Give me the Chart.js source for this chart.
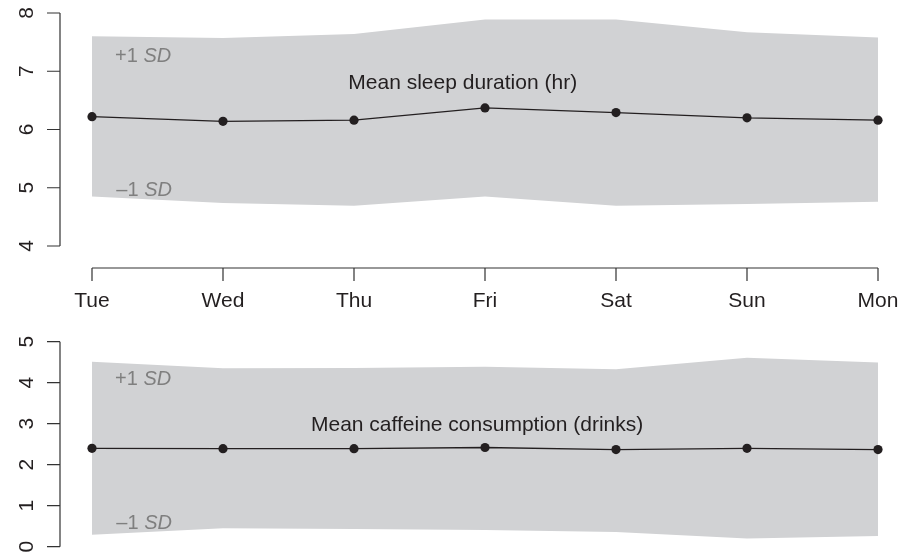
<!DOCTYPE html>
<html><head><meta charset="utf-8">
<script src="https://cdn.jsdelivr.net/npm/chart.js@4/dist/chart.umd.min.js"></script>
<style>
html,body{margin:0;padding:0;background:#fff;}
#wrap{position:relative;width:909px;height:554px;overflow:hidden;}
canvas{position:absolute;left:0;}
</style></head><body>
<div id="wrap">
<canvas id="top" width="909" height="320" style="top:0px"></canvas>
<canvas id="bot" width="909" height="234" style="top:320px"></canvas>
</div>
<script>
const days = ['Tue','Wed','Thu','Fri','Sat','Sun','Mon'];
const sleepMean  = [6.22, 6.14, 6.16, 6.37, 6.29, 6.20, 6.16];
const sleepUpper = [7.60, 7.57, 7.64, 7.89, 7.89, 7.67, 7.58];
const sleepLower = [4.85, 4.74, 4.69, 4.85, 4.69, 4.72, 4.76];
const sleepTicks = [4, 5, 6, 7, 8];
const caffMean  = [2.40, 2.39, 2.39, 2.42, 2.37, 2.40, 2.37];
const caffUpper = [4.51, 4.35, 4.36, 4.39, 4.33, 4.61, 4.49];
const caffLower = [0.29, 0.45, 0.43, 0.41, 0.36, 0.20, 0.26];
const caffTicks = [0, 1, 2, 3, 4, 5];
const sleepTitle = 'Mean sleep duration (hr)';
const caffTitle = 'Mean caffeine consumption (drinks)';

const FONT = '"Liberation Sans", Arial, Helvetica, sans-serif';
const BAND = '#d1d2d4';
const INK = '#231f20';
const AXIS = '#333333';
const GREY = '#7f7f7f';

const axesPlugin = {
  id: 'rAxes',
  afterDraw(chart, args, opts) {
    const ctx = chart.ctx, ca = chart.chartArea;
    const xs = chart.scales.x, ys = chart.scales.y;
    ctx.save();
    ctx.strokeStyle = AXIS; ctx.lineWidth = 1.2; ctx.fillStyle = INK;
    ctx.font = '21px ' + FONT;
    const ax = ca.left - opts.yGap;
    const t = opts.yTicks;
    ctx.beginPath();
    ctx.moveTo(ax, ys.getPixelForValue(t[0]));
    ctx.lineTo(ax, ys.getPixelForValue(t[t.length - 1]));
    t.forEach(v => {
      const py = ys.getPixelForValue(v);
      ctx.moveTo(ax, py); ctx.lineTo(ax - opts.tickLen, py);
    });
    ctx.stroke();
    ctx.textAlign = 'center'; ctx.textBaseline = 'alphabetic';
    t.forEach(v => {
      const py = ys.getPixelForValue(v);
      ctx.save();
      ctx.translate(ax - opts.yLabelOff, py);
      ctx.rotate(-Math.PI / 2);
      ctx.fillText(String(v), 0, 0);
      ctx.restore();
    });
    if (opts.showX) {
      const ay = ca.bottom + opts.xGap;
      ctx.beginPath();
      ctx.moveTo(xs.getPixelForValue(0), ay);
      ctx.lineTo(xs.getPixelForValue(days.length - 1), ay);
      days.forEach((d, i) => {
        const px = xs.getPixelForValue(i);
        ctx.moveTo(px, ay); ctx.lineTo(px, ay + opts.tickLen);
      });
      ctx.stroke();
      ctx.textAlign = 'center';
      days.forEach((d, i) => {
        ctx.fillText(d, xs.getPixelForValue(i), ay + opts.xLabelOff);
      });
    }
    ctx.restore();
  }
};

const textPlugin = {
  id: 'bandText',
  afterDatasetsDraw(chart, args, opts) {
    const ctx = chart.ctx;
    const xs = chart.scales.x, ys = chart.scales.y;
    const x0 = xs.getPixelForValue(0), step = xs.getPixelForValue(1) - x0;
    const px = v => x0 + step * v;
    ctx.save();
    ctx.textBaseline = 'alphabetic';
    ctx.textAlign = 'left';
    opts.sd.forEach(s => {
      let x = px(s.x); const y = ys.getPixelForValue(s.y);
      ctx.fillStyle = GREY;
      ctx.font = '20px ' + FONT;
      ctx.fillText(s.pre, x, y);
      x += ctx.measureText(s.pre).width;
      ctx.font = 'italic 20px ' + FONT;
      ctx.fillText('SD', x, y);
    });
    ctx.fillStyle = INK;
    ctx.font = '21px ' + FONT;
    ctx.textAlign = 'center';
    ctx.fillText(opts.title.text, px(opts.title.x), ys.getPixelForValue(opts.title.y));
    ctx.restore();
  }
};

function panel(id, mean, upper, lower, yMin, yMax, pad, axisOpts, textOpts) {
  return new Chart(document.getElementById(id), {
    type: 'line',
    data: {
      labels: days,
      datasets: [
        { data: upper, fill: '+1', backgroundColor: BAND, borderColor: 'rgba(0,0,0,0)', borderWidth: 0, pointRadius: 0, order: 2 },
        { data: lower, fill: false, backgroundColor: BAND, borderColor: 'rgba(0,0,0,0)', borderWidth: 0, pointRadius: 0, order: 2 },
        { data: mean, fill: false, borderColor: INK, borderWidth: 1.3, tension: 0,
          pointRadius: 4.6, pointBackgroundColor: INK, pointBorderWidth: 0, pointBorderColor: INK, clip: false, order: 0 }
      ]
    },
    options: {
      responsive: false, animation: false, devicePixelRatio: 1,
      layout: { padding: pad },
      scales: {
        x: { type: 'category', offset: false, display: false },
        y: { min: yMin, max: yMax, display: false }
      },
      plugins: {
        legend: { display: false }, tooltip: { enabled: false },
        filler: { drawTime: 'beforeDatasetsDraw' },
        rAxes: axisOpts,
        bandText: textOpts
      }
    },
    plugins: [axesPlugin, textPlugin]
  });
}

panel('top', sleepMean, sleepUpper, sleepLower, 4, 8,
  { left: 92, right: 31, top: 13, bottom: 74 },
  { yTicks: sleepTicks, yGap: 32, tickLen: 13, yLabelOff: 27, showX: true, xGap: 22, xLabelOff: 39 },
  { sd: [{ pre: '+1 ', x: 0.176, y: 7.16 }, { pre: '\u20131 ', x: 0.186, y: 4.85 }],
    title: { text: sleepTitle, x: 2.83, y: 6.69 } });

panel('bot', caffMean, caffUpper, caffLower, 0, 5,
  { left: 92, right: 31, top: 21.7, bottom: 7.3 },
  { yTicks: caffTicks, yGap: 32, tickLen: 13, yLabelOff: 27, showX: false },
  { sd: [{ pre: '+1 ', x: 0.176, y: 3.94 }, { pre: '\u20131 ', x: 0.186, y: 0.43 }],
    title: { text: caffTitle, x: 2.94, y: 2.82 } });
</script>
</body></html>
